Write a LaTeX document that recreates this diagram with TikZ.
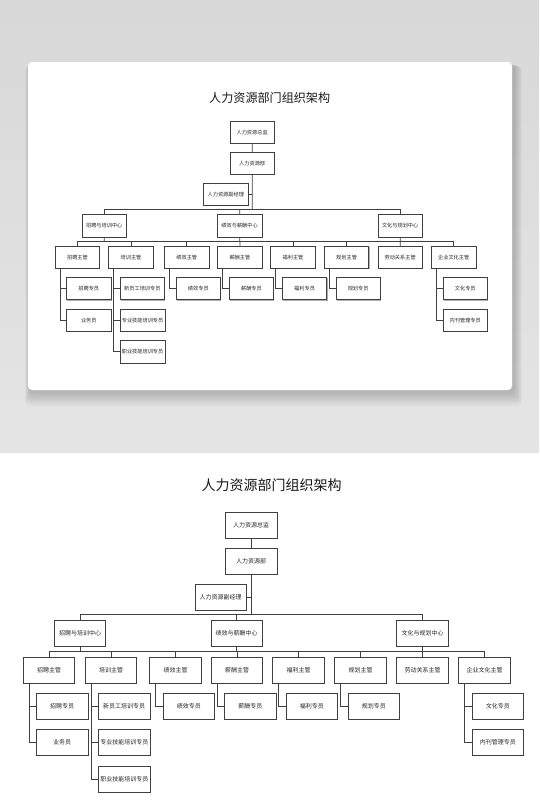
\documentclass[tikz,border=0pt]{standalone}
\usepackage{fontspec}
\setmainfont{Noto Sans CJK SC}
\usetikzlibrary{shadows}

\definecolor{huidi}{HTML}{D8D8D8}
\definecolor{huidiqian}{HTML}{E5E5E5}

\newcommand\zuzhitu{%
\node[biaoti] (biaoti) at (271.5,485) {人力资源部门组织架构};
\node[kuang] (zongjian) at (251.2,525) {人力资源总监};
\node[kuang] (bumen) at (251.2,561) {人力资源部};
\node[kuang] (fujingli) at (220.7,597) {人力资源副经理};
\node[kuang] (zpzx) at (80,633.5) {招聘与培训中心};
\node[kuang] (jxzx) at (236.7,633.5) {绩效与薪酬中心};
\node[kuang] (whzx) at (422.5,633.5) {文化与规划中心};
\node[kuang] (zpzg) at (49,670) {招聘主管};
\node[kuang] (pxzg) at (111,670) {培训主管};
\node[kuang] (jxzg) at (175.5,670) {绩效主管};
\node[kuang] (xczg) at (237,670) {薪酬主管};
\node[kuang] (flzg) at (298.5,670) {福利主管};
\node[kuang] (ghzg) at (360.5,670) {规划主管};
\node[kuang] (ldzg) at (422.5,670) {劳动关系主管};
\node[kuang] (qyzg) at (484.5,670) {企业文化主管};
\node[kuang,anchor=west] (zpzy) at (36,706) {招聘专员};
\node[kuang,anchor=west] (ywy) at (36,742.5) {业务员};
\node[kuang,anchor=west] (xygpx) at (98,706) {新员工培训专员};
\node[kuang,anchor=west] (zyjnpx) at (98,742.5) {专业技能培训专员};
\node[kuang,anchor=west] (zhiyepx) at (98,779) {职业技能培训专员};
\node[kuang,anchor=west] (jxzy) at (162.75,706) {绩效专员};
\node[kuang,anchor=west] (xczy) at (224.25,706) {薪酬专员};
\node[kuang,anchor=west] (flzy) at (285.75,706) {福利专员};
\node[kuang,anchor=west] (ghzy) at (347.75,706) {规划专员};
\node[kuang,anchor=west] (whzy) at (471.75,706) {文化专员};
\node[kuang,anchor=west] (nkzy) at (471.75,742.5) {内刊管理专员};
\path (zpzx.north) ++(0,-6) coordinate (zhuxian);
\path (zpzg.north) ++(0,-5) coordinate (zhixian);
\draw[xian] (zongjian) -- (bumen);
\draw[xian] (bumen) -- (bumen |- zhuxian);
\draw[xian] (fujingli) -- (fujingli -| bumen);
\draw[xian] (zpzx) |- (zhuxian) -| (whzx);
\draw[xian] (jxzx) -- (jxzx |- zhuxian);
\draw[xian] (zpzx) -- (zpzx |- zhixian);
\draw[xian] (jxzx) -- (jxzx |- zhixian);
\draw[xian] (whzx) -- (whzx |- zhixian);
\draw[xian] (zpzg) |- (zhixian) -| (pxzg);
\draw[xian] (jxzg) |- (zhixian) -| (flzg);
\draw[xian] (xczg) -- (xczg |- zhixian);
\draw[xian] (ghzg) |- (zhixian) -| (qyzg);
\draw[xian] (ldzg) -- (ldzg |- zhixian);
\draw[xian] (zpzg.south west) ++(6,0) |- (zpzy);
\draw[xian] (zpzg.south west) ++(6,0) |- (ywy);
\draw[xian] (pxzg.south west) ++(6,0) |- (xygpx);
\draw[xian] (pxzg.south west) ++(6,0) |- (zyjnpx);
\draw[xian] (pxzg.south west) ++(6,0) |- (zhiyepx);
\draw[xian] (jxzg.south west) ++(6,0) |- (jxzy);
\draw[xian] (xczg.south west) ++(6,0) |- (xczy);
\draw[xian] (flzg.south west) ++(6,0) |- (flzy);
\draw[xian] (ghzg.south west) ++(6,0) |- (ghzy);
\draw[xian] (qyzg.south west) ++(6,0) |- (whzy);
\draw[xian] (qyzg.south west) ++(6,0) |- (nkzy);
}

\begin{document}
\begin{tikzpicture}[x=1pt,y=-1pt,
 kuang/.style={draw=black!75,line width=0.75pt,fill=white,text=black!85,minimum width=51.5pt,minimum height=26pt,inner sep=2pt,font=\fontsize{6}{7}\selectfont,drop shadow={shadow xshift=0.7pt,shadow yshift=-0.7pt,fill=black!45,opacity=0.7}},
 biaoti/.style={font=\fontsize{14}{17}\selectfont,text=black!90},
 xian/.style={draw=black!75,line width=0.75pt}]
\useasboundingbox (0,0) rectangle (539,812);
\fill[white] (0,0) rectangle (539,812);
\shade[top color=huidi,bottom color=huidiqian] (0,0) rectangle (539,452);
\foreach \k in {1,...,10}
  \fill[black,opacity=0.02,rounded corners=4pt] (30-\k*0.5,64+\k*0.2) rectangle (514+\k*0.8,392+\k*1.4);
\fill[white,rounded corners=4pt] (28,62) rectangle (512,390);
\begin{scope}[shift={(35.13,-321.4)},scale=0.864,transform shape,name prefix=shang-]
\zuzhitu
\end{scope}
\begin{scope}[name prefix=xia-]
\zuzhitu
\end{scope}
\end{tikzpicture}
\end{document}
